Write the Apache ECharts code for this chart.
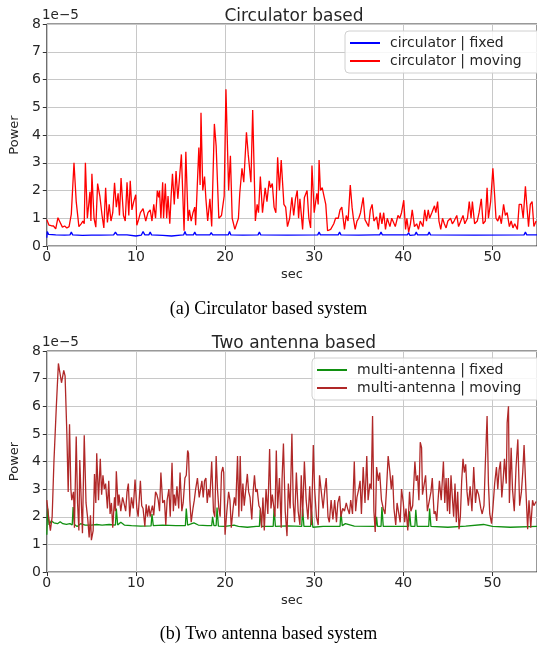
<!DOCTYPE html>
<html>
<head>
<meta charset="utf-8">
<script src="https://cdn.jsdelivr.net/npm/echarts@6/dist/echarts.min.js"></script>
<style>
  html, body { margin: 0; padding: 0; background: #fff; }
  #chart { width: 537px; height: 647px; }
</style>
</head>
<body>
<div id="chart"></div>
<script>
// x ticks (sec) and y ticks (Power, x1e-5)
var xTicks = [0, 10, 20, 30, 40, 50];
var yTicks = [0, 1, 2, 3, 4, 5, 6, 7, 8];

// circulator | fixed  [sec, power]
var circFixed = [[0,0.3],[0.05,0.52],[0.2,0.42],[1,0.4],[2,0.39],[2.6,0.4],[2.75,0.5],[2.9,0.4],[4,0.38],[5,0.39],[6,0.39],[7.5,0.4],[7.7,0.5],[7.9,0.4],[9,0.4],[10,0.36],[10.6,0.39],[10.8,0.52],[11,0.4],[11.45,0.4],[11.6,0.5],[11.75,0.4],[13,0.38],[14,0.36],[15,0.39],[15.35,0.4],[15.5,0.52],[15.65,0.4],[16.45,0.4],[16.6,0.5],[16.75,0.4],[18.3,0.4],[18.45,0.48],[18.6,0.4],[20.35,0.4],[20.5,0.52],[20.65,0.4],[22,0.39],[23.7,0.4],[23.85,0.5],[24,0.4],[27,0.39],[30.4,0.4],[30.55,0.5],[30.7,0.4],[32.7,0.4],[32.85,0.5],[33,0.4],[35,0.39],[36.8,0.4],[36.9,0.45],[37.0,0.38],[37.35,0.4],[37.5,0.5],[37.65,0.4],[40.45,0.4],[40.6,0.48],[40.75,0.38],[41.3,0.4],[41.45,0.5],[41.6,0.4],[42.75,0.4],[42.9,0.5],[43.05,0.4],[48,0.39],[53.55,0.4],[53.7,0.5],[53.85,0.4],[55,0.4]];

// circulator | moving
var circMoving = [[0,0.95],[0.25,0.75],[0.5,0.73],[0.75,0.72],[1.0,0.62],[1.25,1.02],[1.5,0.85],[1.75,0.68],[2.0,0.72],[2.25,0.65],[2.5,0.7],[2.75,1.15],[3.05,3.0],[3.3,1.6],[3.6,0.7],[3.85,0.8],[4.05,0.9],[4.2,0.8],[4.33,3.0],[4.55,1.0],[4.7,0.95],[4.84,1.95],[4.95,0.9],[5.06,2.6],[5.3,1.0],[5.5,0.68],[5.7,2.25],[5.95,1.8],[6.2,1.1],[6.4,0.65],[6.6,2.1],[6.8,0.85],[7.0,1.5],[7.2,0.9],[7.4,1.2],[7.6,2.28],[7.8,1.4],[8.0,1.9],[8.15,1.1],[8.33,2.45],[8.6,1.1],[8.8,0.9],[9.0,2.3],[9.2,1.1],[9.36,2.35],[9.55,1.3],[9.75,1.6],[9.98,1.85],[10.1,0.75],[10.3,0.95],[10.5,1.2],[10.8,1.35],[11.1,0.9],[11.35,1.2],[11.6,1.3],[11.8,0.9],[12.0,1.5],[12.2,1.0],[12.4,2.0],[12.55,1.75],[12.65,2.0],[12.8,1.0],[13.0,2.3],[13.1,1.0],[13.3,2.25],[13.45,1.0],[13.6,1.8],[13.8,0.8],[13.95,1.8],[14.1,2.6],[14.3,1.5],[14.5,2.7],[14.7,1.7],[14.9,2.5],[15.1,3.3],[15.4,0.55],[15.6,3.4],[15.85,0.9],[16.0,1.3],[16.2,0.9],[16.4,1.2],[16.6,1.4],[16.7,0.75],[17.06,3.55],[17.2,2.2],[17.3,4.8],[17.5,2.0],[17.7,2.5],[17.85,1.7],[18.05,0.9],[18.3,1.7],[18.5,0.7],[18.8,4.4],[19.0,3.6],[19.3,1.0],[19.6,1.1],[19.9,1.8],[20.1,5.65],[20.4,2.0],[20.6,3.25],[20.8,1.0],[21.1,0.6],[21.5,1.0],[21.65,1.9],[21.9,2.8],[22.1,2.3],[22.4,4.1],[22.6,3.3],[22.9,2.3],[23.1,4.9],[23.4,0.9],[23.6,1.5],[23.75,1.2],[23.96,2.5],[24.2,1.2],[24.5,2.1],[24.7,1.6],[24.95,2.35],[25.1,2.1],[25.3,2.25],[25.5,1.4],[25.7,1.2],[25.9,3.2],[26.1,2.0],[26.3,3.1],[26.6,1.5],[26.8,1.4],[27.0,0.7],[27.25,1.0],[27.5,1.75],[27.7,1.1],[27.9,1.7],[28.1,2.0],[28.25,1.0],[28.4,1.7],[28.7,0.6],[28.9,1.75],[29.2,2.0],[29.4,1.0],[29.6,0.65],[29.75,2.9],[30.0,1.2],[30.3,1.9],[30.45,1.5],[30.55,3.1],[30.7,2.0],[30.9,2.1],[31.1,1.8],[31.3,1.5],[31.5,0.55],[31.85,0.6],[32.2,0.8],[32.4,1.0],[32.7,1.0],[32.9,1.3],[33.1,1.4],[33.25,1.0],[33.4,0.6],[33.6,1.1],[33.8,0.9],[34.05,2.2],[34.25,1.4],[34.4,1.0],[34.6,0.6],[34.8,0.9],[35.0,1.0],[35.2,1.2],[35.5,1.75],[35.7,0.95],[35.9,1.0],[36.1,0.7],[36.3,1.3],[36.5,1.5],[36.7,0.9],[37.0,1.05],[37.2,0.6],[37.4,1.2],[37.6,0.8],[37.8,1.2],[38.0,0.6],[38.2,1.0],[38.5,0.7],[38.7,1.0],[38.9,1.05],[39.1,0.7],[39.4,1.1],[39.6,1.0],[39.8,1.2],[40.05,1.65],[40.25,0.6],[40.4,1.0],[40.6,0.5],[40.8,0.8],[41.0,1.3],[41.25,0.7],[41.5,0.8],[41.7,0.6],[41.9,0.9],[42.2,0.7],[42.4,1.3],[42.6,0.9],[42.8,1.3],[42.95,1.0],[43.2,1.2],[43.5,1.45],[43.65,1.2],[43.85,1.6],[44.0,0.9],[44.2,0.6],[44.4,1.0],[44.6,0.8],[44.8,0.65],[45.0,0.9],[45.3,1.0],[45.5,0.8],[45.7,0.9],[46.0,1.1],[46.2,0.7],[46.45,0.9],[46.7,1.1],[46.9,0.8],[47.2,1.0],[47.4,1.6],[47.6,1.0],[47.75,1.6],[48.0,0.8],[48.3,0.9],[48.5,1.2],[48.75,1.7],[48.95,0.8],[49.2,0.9],[49.4,2.1],[49.55,1.0],[49.8,1.6],[50.05,2.8],[50.25,1.8],[50.4,1.0],[50.6,0.9],[50.8,1.1],[51.0,0.8],[51.25,1.5],[51.45,1.1],[51.65,1.2],[51.9,0.7],[52.1,0.9],[52.3,0.65],[52.5,0.8],[52.8,0.6],[53.0,1.5],[53.25,1.5],[53.45,1.0],[53.7,2.15],[53.85,1.5],[54.05,0.7],[54.25,1.5],[54.45,1.6],[54.65,0.7],[54.9,0.9]];

// multi-antenna | fixed
var multiFixed = [[0,1.35],[0.1,2.3],[0.25,1.7],[0.5,1.85],[0.8,1.78],[1.2,1.75],[1.5,1.82],[1.8,1.75],[2.2,1.72],[2.6,1.75],[2.85,1.7],[2.95,2.35],[3.1,1.72],[3.4,1.65],[3.8,1.75],[4.3,1.7],[5,1.7],[5.6,1.72],[6.2,1.7],[7,1.72],[7.7,1.7],[7.8,2.3],[7.95,1.7],[8.3,1.8],[8.7,1.7],[9.5,1.68],[10.5,1.66],[11.7,1.67],[11.8,2.1],[11.95,1.68],[13,1.7],[14.5,1.68],[15.55,1.68],[15.65,2.3],[15.8,1.7],[16.5,1.78],[17,1.7],[18,1.68],[18.5,1.68],[18.6,2.0],[18.75,1.68],[19.0,1.68],[19.1,2.33],[19.25,1.66],[20,1.65],[21,1.7],[21.5,1.65],[22.5,1.62],[23.5,1.65],[23.85,1.65],[23.95,2.25],[24.1,1.65],[25.4,1.65],[25.5,2.3],[25.65,1.65],[27,1.67],[28.6,1.65],[28.7,2.3],[28.85,1.65],[29.6,1.65],[29.7,2.2],[29.85,1.62],[31,1.65],[32.9,1.65],[33.0,2.2],[33.15,1.68],[33.5,1.75],[34.5,1.66],[36.9,1.65],[37.0,2.0],[37.1,1.65],[37.5,1.65],[37.6,2.35],[37.75,1.65],[39,1.65],[40.6,1.65],[40.7,2.2],[40.85,1.65],[41.3,1.65],[41.4,2.25],[41.55,1.65],[42.85,1.65],[42.95,2.3],[43.1,1.65],[45,1.62],[47,1.66],[49,1.72],[50,1.65],[52,1.62],[55,1.65]];

// multi-antenna | moving
var multiMoving = [[0,2.6],[0.2,2.0],[0.4,1.5],[0.6,2.0],[0.8,4.0],[1.07,6.0],[1.3,7.55],[1.45,7.5],[1.65,6.85],[1.9,7.3],[2.05,7.1],[2.25,5.0],[2.4,2.9],[2.55,5.35],[2.7,3.0],[2.8,2.6],[3.0,2.9],[3.1,1.6],[3.3,4.9],[3.45,2.5],[3.6,1.5],[3.7,4.05],[3.85,2.7],[4.0,1.4],[4.2,4.95],[4.4,2.5],[4.6,1.9],[4.75,1.25],[4.9,2.05],[5.0,1.15],[5.2,1.5],[5.35,3.55],[5.5,2.5],[5.6,4.3],[5.8,2.6],[6.0,4.1],[6.15,2.8],[6.3,3.5],[6.45,3.0],[6.6,3.2],[6.8,2.3],[6.95,3.3],[7.1,2.1],[7.25,2.5],[7.4,1.6],[7.6,2.7],[7.7,2.2],[7.8,3.65],[8.0,2.4],[8.1,2.8],[8.3,2.2],[8.5,2.7],[8.65,2.5],[8.85,2.2],[9.0,2.9],[9.15,3.2],[9.3,2.0],[9.5,2.7],[9.7,2.3],[9.9,3.35],[10.1,2.3],[10.25,2.0],[10.5,3.3],[10.65,2.4],[10.8,2.3],[11.0,1.65],[11.15,2.45],[11.3,2.0],[11.45,2.4],[11.6,2.0],[11.7,2.2],[11.85,2.4],[12.0,2.05],[12.2,2.9],[12.35,2.8],[12.5,2.6],[12.65,2.2],[12.8,3.6],[13.0,2.5],[13.2,2.6],[13.35,1.7],[13.5,2.6],[13.7,3.0],[13.85,2.0],[14.05,3.95],[14.2,2.2],[14.3,2.8],[14.45,2.4],[14.6,3.1],[14.8,2.3],[14.95,3.6],[15.15,2.2],[15.3,2.5],[15.5,3.4],[15.65,3.5],[15.8,4.4],[15.9,4.3],[16.05,2.6],[16.2,1.8],[16.4,2.3],[16.55,2.6],[16.7,3.0],[16.9,3.4],[17.1,2.7],[17.25,3.0],[17.4,3.3],[17.55,2.7],[17.7,3.3],[17.85,3.4],[18.0,2.5],[18.15,3.0],[18.3,2.7],[18.5,4.0],[18.7,2.2],[18.85,2.0],[19.0,4.2],[19.15,3.0],[19.3,2.3],[19.45,2.0],[19.6,3.6],[19.75,3.8],[19.85,3.6],[20.0,1.35],[20.2,2.2],[20.4,2.9],[20.55,2.6],[20.7,1.6],[20.9,2.3],[21.05,2.7],[21.2,2.4],[21.4,4.2],[21.55,2.0],[21.7,4.2],[21.85,2.2],[22.0,3.2],[22.15,2.4],[22.3,2.9],[22.5,3.55],[22.65,2.9],[22.8,2.7],[23.0,1.9],[23.15,2.9],[23.3,3.5],[23.45,2.9],[23.6,3.0],[23.8,2.4],[23.95,2.3],[24.1,1.6],[24.25,2.7],[24.4,1.5],[24.6,3.0],[24.8,2.1],[25.0,4.45],[25.15,2.3],[25.3,2.8],[25.6,2.0],[25.75,4.4],[25.9,2.3],[26.1,3.4],[26.3,1.6],[26.4,3.4],[26.55,4.65],[26.75,2.2],[26.95,1.3],[27.1,3.2],[27.3,2.3],[27.5,5.0],[27.65,2.5],[27.8,1.8],[28.0,3.6],[28.2,2.2],[28.4,1.7],[28.55,3.5],[28.7,2.0],[28.9,4.0],[29.1,2.6],[29.3,1.9],[29.5,3.1],[29.7,1.7],[29.9,4.6],[30.05,3.0],[30.25,2.0],[30.45,1.7],[30.6,3.5],[30.8,2.9],[31.0,2.3],[31.2,3.0],[31.35,3.4],[31.55,2.0],[31.7,1.8],[31.9,2.6],[32.1,1.9],[32.3,2.6],[32.5,1.8],[32.65,2.5],[32.85,2.75],[33.0,2.0],[33.2,2.3],[33.4,2.2],[33.6,2.5],[33.75,2.3],[33.95,2.1],[34.1,2.6],[34.3,2.1],[34.5,4.0],[34.65,2.2],[34.8,2.7],[35.0,3.0],[35.15,3.3],[35.3,2.1],[35.5,3.8],[35.7,2.5],[35.9,4.2],[36.05,2.6],[36.25,3.2],[36.4,3.0],[36.55,5.65],[36.7,2.2],[36.85,1.45],[37.0,3.8],[37.2,3.3],[37.35,3.6],[37.55,2.6],[37.75,2.3],[37.95,2.1],[38.1,2.9],[38.3,4.2],[38.5,3.6],[38.65,3.0],[38.8,3.5],[38.95,2.3],[39.15,1.7],[39.3,2.5],[39.5,2.5],[39.65,1.8],[39.8,3.0],[40.0,2.5],[40.15,1.8],[40.3,2.3],[40.5,1.5],[40.7,2.9],[40.85,2.2],[41.05,2.4],[41.3,4.0],[41.45,3.3],[41.6,3.5],[41.75,2.6],[41.9,4.7],[42.05,4.5],[42.15,2.8],[42.35,3.2],[42.5,3.5],[42.7,2.2],[42.9,2.2],[43.1,2.9],[43.25,3.4],[43.45,2.1],[43.6,2.2],[43.75,1.85],[43.9,2.6],[44.05,3.3],[44.25,2.6],[44.5,4.0],[44.65,2.5],[44.8,3.4],[44.95,2.2],[45.05,3.4],[45.2,2.1],[45.35,3.5],[45.5,2.7],[45.65,2.0],[45.8,3.2],[45.95,1.8],[46.1,2.9],[46.25,1.55],[46.4,2.0],[46.55,3.3],[46.7,4.1],[46.85,3.6],[47.0,3.9],[47.15,2.9],[47.3,2.4],[47.5,3.1],[47.7,2.2],[47.9,3.8],[48.1,2.5],[48.25,3.0],[48.45,2.8],[48.7,2.3],[48.85,2.1],[49.05,2.4],[49.2,3.9],[49.4,5.65],[49.55,3.2],[49.7,2.1],[49.9,1.75],[50.05,2.3],[50.25,3.2],[50.45,3.8],[50.6,3.0],[50.75,3.7],[50.9,4.0],[51.05,2.7],[51.2,3.3],[51.35,4.1],[51.55,3.2],[51.65,5.4],[51.8,6.0],[51.9,2.5],[52.1,4.5],[52.25,3.0],[52.45,2.2],[52.65,3.8],[52.85,4.8],[53.05,2.4],[53.25,2.9],[53.4,3.6],[53.55,4.6],[53.75,3.0],[53.95,1.55],[54.1,2.6],[54.3,1.6],[54.5,2.6],[54.65,2.4],[54.9,2.55]];

var font = "DejaVu Sans";
var textColor = "#262626";

// one x axis per panel
function makeX(idx) {
  return {
    type: "value", gridIndex: idx,
    min: xTicks[0], max: 55, interval: 10,
    name: "sec", nameLocation: "middle", nameGap: 22,
    nameTextStyle: { fontFamily: font, fontSize: 13, color: textColor },
    axisLine: { show: false },
    axisTick: { show: true, length: 4, lineStyle: { color: "#333" } },
    axisLabel: { fontFamily: font, fontSize: 14, color: textColor, margin: 4, showMaxLabel: false },
    splitLine: { show: true, lineStyle: { color: "#c8c8c8", width: 1 } }
  };
}

function makeY(idx) {
  return {
    type: "value", gridIndex: idx,
    min: yTicks[0], max: yTicks[yTicks.length - 1], interval: 1,
    name: "Power", nameLocation: "middle", nameGap: 22, nameRotate: 90,
    nameTextStyle: { fontFamily: font, fontSize: 13, color: textColor },
    axisLine: { show: false },
    axisTick: { show: true, length: 4, lineStyle: { color: "#333" } },
    axisLabel: { fontFamily: font, fontSize: 14, color: textColor, margin: 6 },
    splitLine: { show: true, lineStyle: { color: "#c8c8c8", width: 1 } }
  };
}

function makeLine(name, data, color, idx) {
  return {
    name: name, type: "line", data: data,
    xAxisIndex: idx, yAxisIndex: idx,
    showSymbol: false, symbol: "none", animation: false,
    lineStyle: { color: color, width: 1.3 },
    itemStyle: { color: color }
  };
}

function makeLegend(names, left, top) {
  return {
    data: names, orient: "vertical", left: left, top: top,
    icon: "rect", itemWidth: 30, itemHeight: 2, itemGap: 4,
    padding: [5, 40, 5, 5],
    backgroundColor: "rgba(255,255,255,0.85)",
    borderColor: "#d0d0d0", borderWidth: 1, borderRadius: 4,
    textStyle: { fontFamily: font, fontSize: 14, color: textColor, padding: [0, 0, 0, 5] }
  };
}

var chart = echarts.init(document.getElementById("chart"));

var option = {
  backgroundColor: "#fff",
  animation: false,
  title: [
    { text: "Circulator based", left: 289, top: 3, textAlign: "center",
      textStyle: { fontFamily: font, fontSize: 17, fontWeight: "normal", color: textColor } },
    { text: "Two antenna based", left: 289, top: 330, textAlign: "center",
      textStyle: { fontFamily: font, fontSize: 17, fontWeight: "normal", color: textColor } }
  ],
  grid: [
    { left: 41, top: 24, right: -2, height: 222, show: true, borderColor: "#333", borderWidth: 1 },
    { left: 41, top: 351, right: -2, height: 221, show: true, borderColor: "#333", borderWidth: 1 }
  ],
  xAxis: [makeX(0), makeX(1)],
  yAxis: [makeY(0), makeY(1)],
  legend: [
    makeLegend(["circulator | fixed", "circulator | moving"], 345, 31),
    makeLegend(["multi-antenna | fixed", "multi-antenna | moving"], 312, 358)
  ],
  series: [
    makeLine("circulator | fixed", circFixed, "#0000ff", 0),
    makeLine("circulator | moving", circMoving, "#ff0000", 0),
    makeLine("multi-antenna | fixed", multiFixed, "#119011", 1),
    makeLine("multi-antenna | moving", multiMoving, "#b02828", 1)
  ],
  graphic: [
    // offset text and captions
    { type: "text", left: 42, top: 8, style: { text: "1e\u22125", font: "13.5px DejaVu Sans", fill: textColor } },
    { type: "text", left: 42, top: 335, style: { text: "1e\u22125", font: "13.5px DejaVu Sans", fill: textColor } },
    { type: "text", left: "center", top: 300, style: { text: "(a) Circulator based system", font: "18px Liberation Serif", fill: "#000" } },
    { type: "text", left: "center", top: 625, style: { text: "(b) Two antenna based system", font: "18px Liberation Serif", fill: "#000" } }
  ]
};

chart.setOption(option);
</script>
</body>
</html>
